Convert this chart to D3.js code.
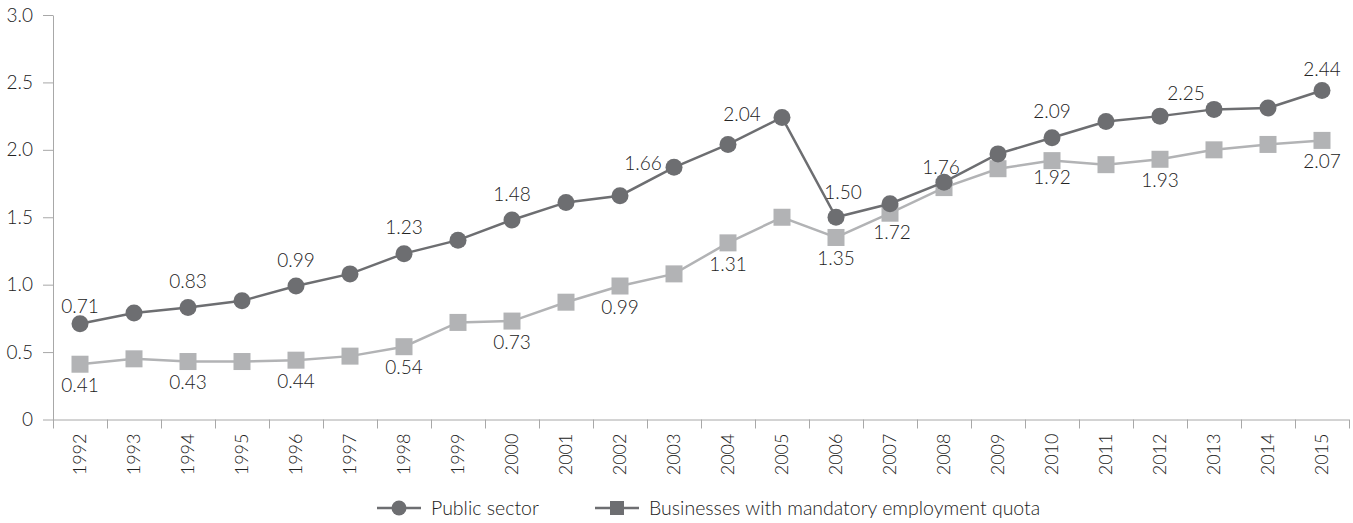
<!DOCTYPE html>
<html>
<head>
<meta charset="utf-8">
<script src="https://cdn.jsdelivr.net/npm/d3@7"></script>
<style>
  body { margin: 0; background: #fff; }
  svg text { font-family: Lato, "Open Sans", sans-serif; font-weight: 300; fill: #222; }
</style>
</head>
<body>
<div id="chart"></div>
<script>
// data
const years = d3.range(1992, 2016).map(String);
const publicSector = [0.71, 0.79, 0.83, 0.88, 0.99, 1.08, 1.23, 1.33, 1.48, 1.61, 1.66, 1.87,
  2.04, 2.24, 1.50, 1.60, 1.76, 1.97, 2.09, 2.21, 2.25, 2.30, 2.31, 2.44];
const businesses = [0.41, 0.45, 0.43, 0.43, 0.44, 0.47, 0.54, 0.72, 0.73, 0.87, 0.99, 1.08,
  1.31, 1.50, 1.35, 1.53, 1.72, 1.86, 1.92, 1.89, 1.93, 2.00, 2.04, 2.07];
const publicLabelYears = ["1992", "1994", "1996", "1998", "2000", "2002", "2004", "2006", "2008", "2010", "2012", "2015"];
const businessLabelYears = ["1992", "1994", "1996", "1998", "2000", "2002", "2004", "2006", "2008", "2010", "2012", "2015"];
const yTicks = [0, 0.5, 1.0, 1.5, 2.0, 2.5, 3.0];
const seriesNames = ["Public sector", "Businesses with mandatory employment quota"];

const W = 1353, H = 523;
const margin = { top: 15, left: 53, right: 4, bottom: 103.5 };
const darkGrey = "#6d6e71", lightGrey = "#b2b3b5", axisGrey = "#a8a8a8";

const svg = d3.select("#chart").append("svg").attr("width", W).attr("height", H);

const x = d3.scaleBand().domain(years).range([margin.left, W - margin.right]);
const y = d3.scaleLinear().domain([0, 3]).range([H - margin.bottom, margin.top]);

// y axis
const yAxis = d3.axisLeft(y)
  .tickValues(yTicks)
  .tickSize(10)
  .tickSizeOuter(0)
  .tickPadding(10)
  .tickFormat((d) => (d === 0 ? "0" : d3.format(".1f")(d)));

const gy = svg.append("g").attr("transform", `translate(${margin.left},0)`).call(yAxis);
gy.selectAll("text").style("font-size", "19px");
gy.selectAll("line, path").attr("stroke", axisGrey);

// x axis: baseline, boundary ticks, rotated labels
const y0 = y(0);
svg.append("line")
  .attr("x1", margin.left).attr("x2", W - margin.right)
  .attr("y1", y0 + 0.5).attr("y2", y0 + 0.5)
  .attr("stroke", axisGrey);

svg.selectAll(".xtick")
  .data(years.map((d) => x(d)).concat([x.range()[1]]))
  .enter()
  .append("line")
  .attr("class", "xtick")
  .attr("x1", (d) => Math.round(d) + 0.5).attr("x2", (d) => Math.round(d) + 0.5)
  .attr("y1", y0).attr("y2", y0 + 9)
  .attr("stroke", axisGrey);

svg.selectAll(".xlabel")
  .data(years)
  .enter()
  .append("text")
  .attr("class", "xlabel")
  .attr("transform", (d) => `translate(${x(d) + x.bandwidth() / 2},${y0 + 14}) rotate(-90)`)
  .attr("dy", "0.35em")
  .style("text-anchor", "end")
  .style("font-size", "18px")
  .text((d) => d);

// lines
const cx = (d, i) => x(years[i]) + x.bandwidth() / 2;
const line = d3.line().x((d, i) => cx(d, i)).y((d) => y(d));

svg.append("path").datum(businesses)
  .attr("fill", "none").attr("stroke", lightGrey).attr("stroke-width", 2.5).attr("d", line);
svg.selectAll(".sq").data(businesses).enter().append("rect")
  .attr("x", (d, i) => cx(d, i) - 8.5).attr("y", (d) => y(d) - 8.5)
  .attr("width", 17).attr("height", 17).attr("fill", lightGrey);

svg.append("path").datum(publicSector)
  .attr("fill", "none").attr("stroke", darkGrey).attr("stroke-width", 2.5).attr("d", line);
svg.selectAll(".dot").data(publicSector).enter().append("circle")
  .attr("cx", (d, i) => cx(d, i)).attr("cy", (d) => y(d))
  .attr("r", 8.5).attr("fill", darkGrey);

// value labels (nudges where the original shifts them)
const nudge = {
  p1992: [0, -17], p2002: [23, -32], p2004: [14, -30], p2006: [7, -25],
  p2008: [-3, -15], p2012: [26, -23], p2015: [0, -21],
  b2008: [-52, 45], b2010: [0, 17]
};
function addLabels(values, labelYears, key, dflt) {
  labelYears.forEach((yr) => {
    const i = years.indexOf(yr);
    const [dx, dy] = nudge[key + yr] || dflt;
    svg.append("text")
      .attr("x", x(yr) + x.bandwidth() / 2 + dx)
      .attr("y", y(values[i]) + dy)
      .attr("dy", "0.35em")
      .style("text-anchor", "middle")
      .style("font-size", "19px")
      .text(values[i].toFixed(2));
  });
}
addLabels(publicSector, publicLabelYears, "p", [0, -26]);
addLabels(businesses, businessLabelYears, "b", [0, 21]);

// legend
const legend = svg.append("g").attr("transform", `translate(0, 508)`);
const items = [{ name: seriesNames[0], x0: 377, shape: "circle" },
               { name: seriesNames[1], x0: 595, shape: "square" }];
items.forEach((it) => {
  const g = legend.append("g").attr("transform", `translate(${it.x0},0)`);
  g.append("line").attr("x1", 0).attr("x2", 44).attr("stroke", darkGrey).attr("stroke-width", 2.5);
  if (it.shape === "circle") {
    g.append("circle").attr("cx", 22).attr("r", 7.5).attr("fill", darkGrey);
  } else {
    g.append("rect").attr("x", 15).attr("y", -7).attr("width", 14).attr("height", 14).attr("fill", darkGrey);
  }
  g.append("text").attr("x", 54).attr("dy", "0.35em").style("font-size", "19.5px").text(it.name);
});
</script>
</body>
</html>
